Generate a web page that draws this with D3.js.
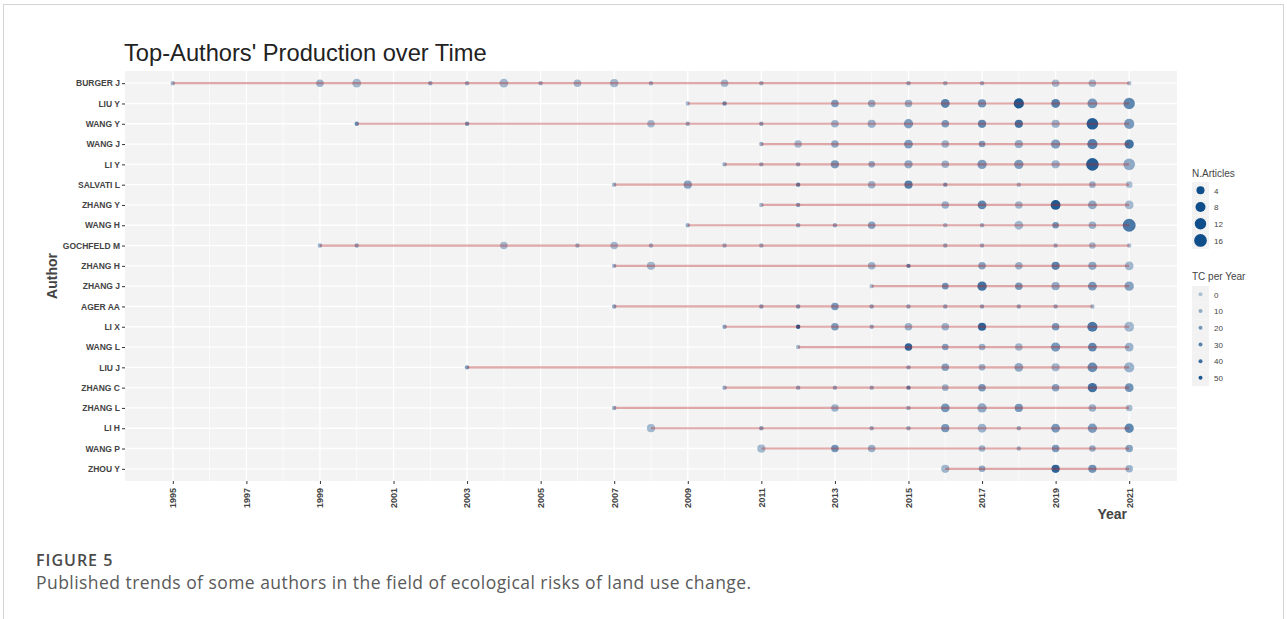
<!DOCTYPE html>
<html>
<head>
<meta charset="utf-8">
<script src="https://cdn.jsdelivr.net/npm/d3@7"></script>
<style>
  body { margin: 0; background: #fff; }
  svg { display: block; }
</style>
</head>
<body>
<div id="chart"></div>
<script>
// each author: [year, number of articles, total citations per year]
const BURGER_J = [[1995,1,8],[1999,3,8],[2000,5,5],[2002,1,12],[2003,1,10],[2004,5,5],[2005,1,8],[2006,3,6],[2007,4,6],[2008,1,8],[2010,3,5],[2011,1,8],[2015,1,10],[2016,1,8],[2017,1,8],[2019,3,5],[2020,3,5],[2021,1,3]];
const LIU_Y = [[2009,1,5],[2010,1,25],[2013,3,18],[2014,3,10],[2015,3,10],[2016,5,30],[2017,4,22],[2018,8,50],[2019,5,32],[2020,7,20],[2021,11,28]];
const WANG_Y = [[2000,1,25],[2003,1,22],[2008,3,5],[2009,1,10],[2011,1,15],[2013,3,8],[2014,4,8],[2015,6,18],[2016,3,18],[2017,4,28],[2018,4,38],[2019,4,8],[2020,12,48],[2021,8,20]];
const WANG_J = [[2011,1,10],[2012,3,5],[2013,3,12],[2015,5,18],[2016,3,8],[2017,2,18],[2018,4,10],[2019,6,18],[2020,8,32],[2021,6,38]];
const LI_Y = [[2010,1,10],[2011,1,10],[2012,1,12],[2013,4,20],[2014,2,12],[2015,4,12],[2016,3,8],[2017,6,18],[2018,6,18],[2019,4,8],[2020,15,48],[2021,12,12]];
const SALVATI_L = [[2007,1,10],[2009,4,15],[2012,1,30],[2014,3,8],[2015,4,32],[2016,1,20],[2018,1,5],[2020,2,8],[2021,2,3]];
const ZHANG_Y = [[2011,1,5],[2012,1,15],[2016,3,8],[2017,5,28],[2018,3,6],[2019,7,50],[2020,5,12],[2021,5,5]];
const WANG_H = [[2009,1,10],[2012,1,12],[2013,1,12],[2014,3,15],[2016,1,5],[2017,1,8],[2018,5,5],[2019,2,22],[2020,3,8],[2021,16,35]];
const GOCHFELD_M = [[1999,1,10],[2000,1,12],[2004,3,5],[2006,1,8],[2007,3,5],[2008,1,8],[2010,1,8],[2011,1,8],[2016,1,10],[2017,1,8],[2019,1,8],[2020,2,5],[2021,1,3]];
const ZHANG_H = [[2007,1,10],[2008,4,5],[2014,3,8],[2015,1,30],[2017,3,15],[2018,3,8],[2019,4,30],[2020,4,12],[2021,5,6]];
const ZHANG_J = [[2014,1,3],[2016,2,22],[2017,6,38],[2018,3,20],[2019,4,12],[2020,5,20],[2021,6,15]];
const AGER_AA = [[2007,1,15],[2011,1,15],[2012,1,18],[2013,3,20],[2014,1,12],[2015,1,12],[2016,1,12],[2017,1,12],[2018,1,12],[2019,1,10],[2020,1,5]];
const LI_X = [[2010,1,15],[2012,1,50],[2013,3,18],[2014,1,10],[2015,3,8],[2016,3,8],[2017,4,45],[2019,3,20],[2020,8,35],[2021,7,5]];
const WANG_L = [[2012,1,5],[2015,3,45],[2016,2,15],[2017,2,8],[2018,3,5],[2019,6,20],[2020,5,28],[2021,5,8]];
const LIU_J = [[2003,1,18],[2015,1,12],[2016,3,15],[2017,2,8],[2018,5,12],[2019,4,6],[2020,7,25],[2021,8,8]];
const ZHANG_C = [[2010,1,12],[2012,1,12],[2013,1,12],[2014,1,10],[2015,1,30],[2016,2,8],[2017,3,20],[2019,3,15],[2020,6,38],[2021,5,22]];
const ZHANG_L = [[2007,1,12],[2013,3,8],[2015,1,8],[2016,5,20],[2017,6,12],[2018,4,20],[2020,3,8],[2021,2,5]];
const LI_H = [[2008,4,5],[2011,1,15],[2014,1,10],[2015,1,10],[2016,4,20],[2017,5,8],[2018,1,10],[2019,5,20],[2020,6,18],[2021,6,28]];
const WANG_P = [[2011,4,5],[2013,3,22],[2014,3,8],[2017,2,8],[2018,1,8],[2019,3,20],[2020,2,10],[2021,3,15]];
const ZHOU_Y = [[2016,4,6],[2017,2,12],[2019,4,45],[2020,4,22],[2021,3,8]];

const authors = ["BURGER J","LIU Y","WANG Y","WANG J","LI Y","SALVATI L","ZHANG Y","WANG H","GOCHFELD M","ZHANG H",
  "ZHANG J","AGER AA","LI X","WANG L","LIU J","ZHANG C","ZHANG L","LI H","WANG P","ZHOU Y"];
const production = [BURGER_J, LIU_Y, WANG_Y, WANG_J, LI_Y, SALVATI_L, ZHANG_Y, WANG_H, GOCHFELD_M, ZHANG_H,
  ZHANG_J, AGER_AA, LI_X, WANG_L, LIU_J, ZHANG_C, ZHANG_L, LI_H, WANG_P, ZHOU_Y];

const yearTicks = d3.range(1995, 2022, 2);
const sizeLegend = [4, 8, 12, 16];
const tcLegend = [0, 10, 20, 30, 40, 50];

const W = 1287, H = 619;
const margin = { top: 71, right: 110, bottom: 138, left: 125 };
const width = W - margin.left - margin.right;
const height = H - margin.top - margin.bottom;

const svg = d3.select("#chart").append("svg")
  .attr("width", W)
  .attr("height", H)
  .style("font-family", "'Liberation Sans', Arial, sans-serif");

// figure frame
svg.append("rect")
  .attr("x", 3.5).attr("y", 4.5)
  .attr("width", W - 7).attr("height", H + 50)
  .attr("fill", "none").attr("stroke", "#d4d4d4");

const points = [];
production.forEach((rows, i) => rows.forEach(r => points.push({ author: authors[i], year: r[0], n: r[1], tc: r[2] })));

const x = d3.scaleLinear().domain([1995 - 1.3, 2021 + 1.3]).range([0, width]);
const y = d3.scalePoint().domain(authors).range([0, height]).padding(0.6);
const r = d3.scaleSqrt().domain([0, 16]).range([2.2, 6.6]);   // applied to n - 1
const alpha = d3.scaleLinear().domain([0, 55]).range([0.3, 1]);
const dotColor = "#104E8B";

const g = svg.append("g").attr("transform", `translate(${margin.left},${margin.top})`);

g.append("rect").attr("width", width).attr("height", height).attr("fill", "#f3f3f3");

// grid
g.append("g").selectAll("line")
  .data(d3.range(1995, 2022))
  .join("line")
  .attr("x1", d => x(d)).attr("x2", d => x(d))
  .attr("y1", 0).attr("y2", height)
  .attr("stroke", "#fff")
  .attr("stroke-width", d => (d % 2 ? 1.3 : 0.7));

g.append("g").selectAll("line")
  .data(authors)
  .join("line")
  .attr("x1", 0).attr("x2", width)
  .attr("y1", d => y(d)).attr("y2", d => y(d))
  .attr("stroke", "#fff")
  .attr("stroke-width", 1.3);

// points
g.append("g").selectAll("circle")
  .data(points)
  .join("circle")
  .attr("cx", d => x(d.year))
  .attr("cy", d => y(d.author))
  .attr("r", d => r(d.n - 1))
  .attr("fill", dotColor)
  .attr("fill-opacity", d => alpha(d.tc));

// lines from first to last year, drawn over the points
g.append("g").selectAll("line")
  .data(production)
  .join("line")
  .attr("x1", d => x(d3.min(d, v => v[0])))
  .attr("x2", d => x(d3.max(d, v => v[0])))
  .attr("y1", (d, i) => y(authors[i]))
  .attr("y2", (d, i) => y(authors[i]))
  .attr("stroke", "firebrick")
  .attr("stroke-opacity", 0.38)
  .attr("stroke-width", 2.2);

// axes
const xAxis = g.append("g")
  .attr("transform", `translate(0,${height})`)
  .call(d3.axisBottom(x).tickValues(yearTicks).tickFormat(d3.format("d")).tickSize(3).tickPadding(3));
xAxis.select(".domain").remove();
xAxis.selectAll("line").attr("stroke", "#333");
xAxis.selectAll("text")
  .attr("transform", "rotate(-90)")
  .attr("text-anchor", "end")
  .attr("dy", "0.32em")
  .attr("x", -7)
  .attr("y", 0)
  .attr("fill", "#444")
  .style("font-size", "9px")
  .style("font-weight", "bold")
  .style("font-family", "'Liberation Sans', Arial, sans-serif");

const yAxis = g.append("g")
  .call(d3.axisLeft(y).tickSize(3).tickPadding(2));
yAxis.select(".domain").remove();
yAxis.selectAll("line").attr("stroke", "#333");
yAxis.selectAll("text")
  .attr("fill", "#444")
  .style("font-size", "8.5px")
  .style("font-weight", "bold")
  .style("font-family", "'Liberation Sans', Arial, sans-serif");

// titles
svg.append("text")
  .attr("x", 124).attr("y", 61)
  .attr("fill", "#222")
  .style("font-size", "23.7px")
  .text("Top-Authors' Production over Time");

svg.append("text")
  .attr("transform", `translate(57,${margin.top + height / 2}) rotate(-90)`)
  .attr("text-anchor", "middle")
  .attr("fill", "#444")
  .style("font-size", "14px")
  .style("font-weight", "bold")
  .text("Author");

svg.append("text")
  .attr("x", 1127).attr("y", 519)
  .attr("text-anchor", "end")
  .attr("fill", "#444")
  .style("font-size", "14px")
  .style("font-weight", "bold")
  .text("Year");

// legends
const leg = svg.append("g").attr("transform", "translate(1192,0)");
leg.append("text").attr("x", 0).attr("y", 177).attr("fill", "#444").style("font-size", "10px").text("N.Articles");
const sizeKeys = leg.selectAll("g.sk").data(sizeLegend).join("g")
  .attr("class", "sk")
  .attr("transform", (d, i) => `translate(0,${182 + i * 16.7})`);
sizeKeys.append("rect").attr("width", 17).attr("height", 16.7).attr("fill", "#f2f2f2");
sizeKeys.append("circle").attr("cx", 8.5).attr("cy", 8.35).attr("r", d => r(d - 1) * 0.98).attr("fill", dotColor);
sizeKeys.append("text").attr("x", 22).attr("y", 11.5).attr("fill", "#444").style("font-size", "8px").text(d => d);

leg.append("text").attr("x", 0).attr("y", 280).attr("fill", "#444").style("font-size", "10px").text("TC per Year");
const tcKeys = leg.selectAll("g.tk").data(tcLegend).join("g")
  .attr("class", "tk")
  .attr("transform", (d, i) => `translate(0,${286 + i * 16.7})`);
tcKeys.append("rect").attr("width", 17).attr("height", 16.7).attr("fill", "#f2f2f2");
tcKeys.append("circle").attr("cx", 8.5).attr("cy", 8.35).attr("r", 2).attr("fill", dotColor).attr("fill-opacity", d => alpha(d));
tcKeys.append("text").attr("x", 22).attr("y", 11.5).attr("fill", "#444").style("font-size", "8px").text(d => d);

// caption
svg.append("text")
  .attr("x", 36).attr("y", 566)
  .attr("fill", "#4a4a4a")
  .style("font-family", "'Open Sans', 'Noto Sans', sans-serif")
  .style("font-size", "16px")
  .style("font-weight", "600")
  .style("letter-spacing", "1px")
  .text("FIGURE 5");
svg.append("text")
  .attr("x", 36).attr("y", 589)
  .attr("fill", "#5a5a5a")
  .style("font-family", "'Open Sans', 'Noto Sans', sans-serif")
  .style("font-size", "17.5px")
  .style("letter-spacing", "0.45px")
  .text("Published trends of some authors in the field of ecological risks of land use change.");
</script>
</body>
</html>
